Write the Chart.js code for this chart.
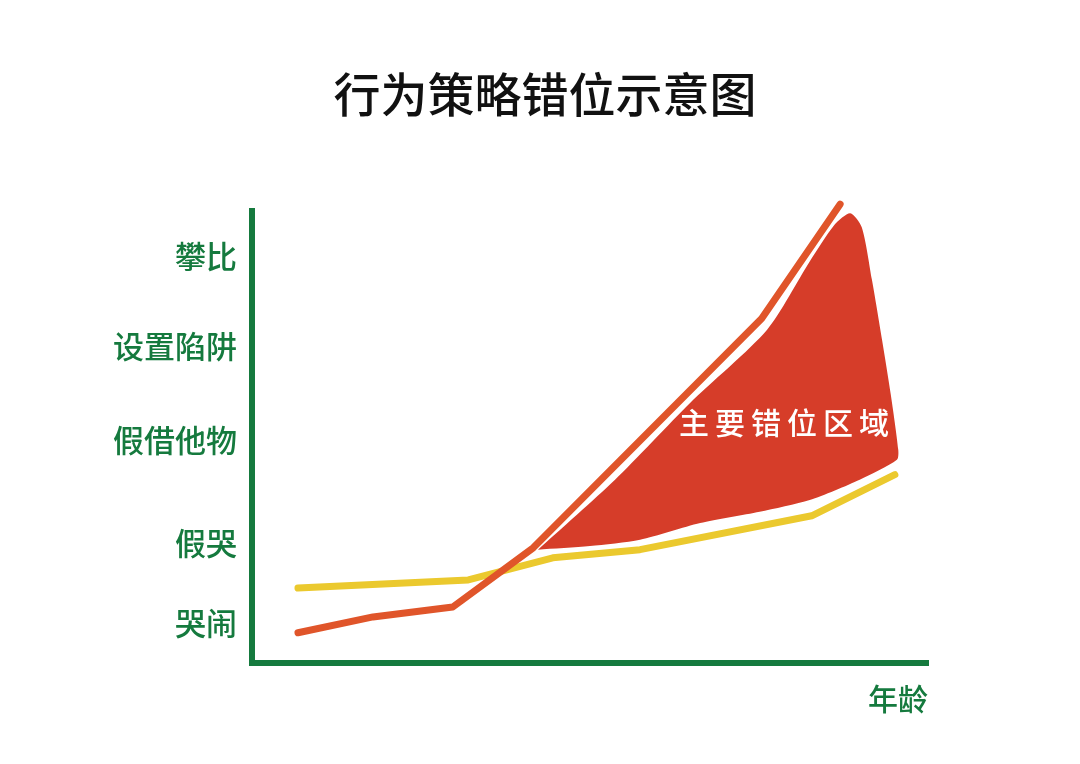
<!DOCTYPE html>
<html>
<head>
<meta charset="utf-8">
<script src="https://cdn.jsdelivr.net/npm/chart.js@4.4.1/dist/chart.umd.min.js"></script>
<style>
  html, body { margin: 0; padding: 0; background: #ffffff; }
  #wrap { width: 1080px; height: 764px; }
</style>
</head>
<body>
<div id="wrap"><canvas id="c" width="1080" height="764"></canvas></div>
<script>
// ---- data ----
const chartTitle = '行为策略错位示意图';
const xAxisTitle = '年龄';
const areaLabel = '主要错位区域';

const yTickLabels = ['哭闹', '假哭', '假借他物', '设置陷阱', '攀比'];
const yTickValues = [8.9, 26.6, 49.4, 70.1, 90.0];

// yellow line (age vs. strategy level)
const yellowX = [6.8, 32.0, 44.5, 57.4, 82.8, 95.1];
const yellowY = [16.6, 18.4, 23.3, 25.1, 32.6, 41.7];

// red line
const redX = [6.8, 17.9, 29.7, 41.6, 75.4, 87.0];
const redY = [6.7, 10.2, 12.4, 25.5, 76.3, 101.6];

// main mismatch region outline
const areaX = [42.3, 53.7, 64.8, 76.2, 82.5, 86.2, 88.5, 90.2, 91.7, 93.2, 94.5, 95.6, 95.4, 89.9, 82.5, 75.1, 66.3, 57.4, 50.0, 42.3];
const areaY = [25.1, 40.6, 57.6, 73.8, 88.9, 97.1, 99.6, 96.5, 84.9, 71.6, 59.4, 47.2, 45.0, 40.6, 36.1, 33.5, 31.0, 27.3, 25.9, 25.1];
const areaLabelPos = [78.7, 53.2];

const GREEN = '#157a3e';
const toPts = (xs, ys) => xs.map((x, i) => ({ x: x, y: ys[i] }));

const areaTextPlugin = {
  id: 'areaText',
  afterDatasetsDraw(chart) {
    const { ctx, scales } = chart;
    const px = scales.x.getPixelForValue(areaLabelPos[0]);
    const py = scales.y.getPixelForValue(areaLabelPos[1]);
    ctx.save();
    ctx.font = '500 30px "Noto Sans CJK SC", sans-serif';
    ctx.fillStyle = '#ffffff';
    ctx.textAlign = 'center';
    ctx.textBaseline = 'middle';
    if ('letterSpacing' in ctx) ctx.letterSpacing = '6px';
    ctx.fillText(areaLabel, px + 3, py);
    ctx.restore();
  }
};

new Chart(document.getElementById('c'), {
  type: 'scatter',
  data: {
    datasets: [
      {
        label: 'area',
        data: toPts(areaX, areaY),
        showLine: true,
        borderWidth: 0,
        borderColor: 'rgba(0,0,0,0)',
        backgroundColor: '#d63d29',
        fill: 'shape',
        tension: 0.25,
        pointRadius: 0,
        order: 3
      },
      {
        label: 'yellow',
        data: toPts(yellowX, yellowY),
        showLine: true,
        borderColor: '#ebc92e',
        borderWidth: 7,
        borderCapStyle: 'round',
        borderJoinStyle: 'round',
        pointRadius: 0,
        fill: false,
        order: 2
      },
      {
        label: 'red',
        data: toPts(redX, redY),
        showLine: true,
        borderColor: '#e0552a',
        borderWidth: 7,
        borderCapStyle: 'round',
        borderJoinStyle: 'round',
        pointRadius: 0,
        fill: false,
        clip: false,
        order: 1
      }
    ]
  },
  options: {
    responsive: false,
    animation: false,
    events: [],
    layout: { padding: { left: 10, right: 0, top: 0, bottom: 47 } },
    plugins: {
      legend: { display: false },
      tooltip: { enabled: false },
      title: {
        display: true,
        text: chartTitle,
        color: '#111111',
        font: { family: '"Noto Sans CJK SC", sans-serif', size: 47, weight: '500' },
        padding: { top: 66, bottom: 89 }
      }
    },
    scales: {
      x: {
        type: 'linear',
        min: 0,
        max: 100,
        grid: { display: false, drawTicks: false },
        border: { display: true, color: GREEN, width: 6 },
        ticks: { display: false },
        title: {
          display: true,
          text: xAxisTitle,
          align: 'end',
          color: GREEN,
          font: { family: '"Noto Sans CJK SC", sans-serif', size: 30, weight: '500' },
          padding: { top: 18, bottom: 0 }
        }
      },
      y: {
        type: 'linear',
        min: 0,
        max: 100,
        grid: { display: false, drawTicks: false },
        border: { display: true, color: GREEN, width: 6 },
        afterBuildTicks(scale) {
          scale.ticks = yTickValues.map(v => ({ value: v }));
        },
        afterFit(scale) { scale.width = 242; },
        ticks: {
          color: GREEN,
          padding: 15,
          font: { family: '"Noto Sans CJK SC", sans-serif', size: 31, weight: '500' },
          callback(value) {
            const i = yTickValues.indexOf(value);
            return i >= 0 ? yTickLabels[i] : '';
          }
        }
      },
      yRight: {
        type: 'linear',
        position: 'right',
        min: 0,
        max: 100,
        display: true,
        grid: { display: false, drawTicks: false },
        border: { display: false },
        ticks: { display: false },
        afterFit(scale) { scale.width = 152; }
      }
    }
  },
  plugins: [areaTextPlugin]
});
</script>
</body>
</html>
